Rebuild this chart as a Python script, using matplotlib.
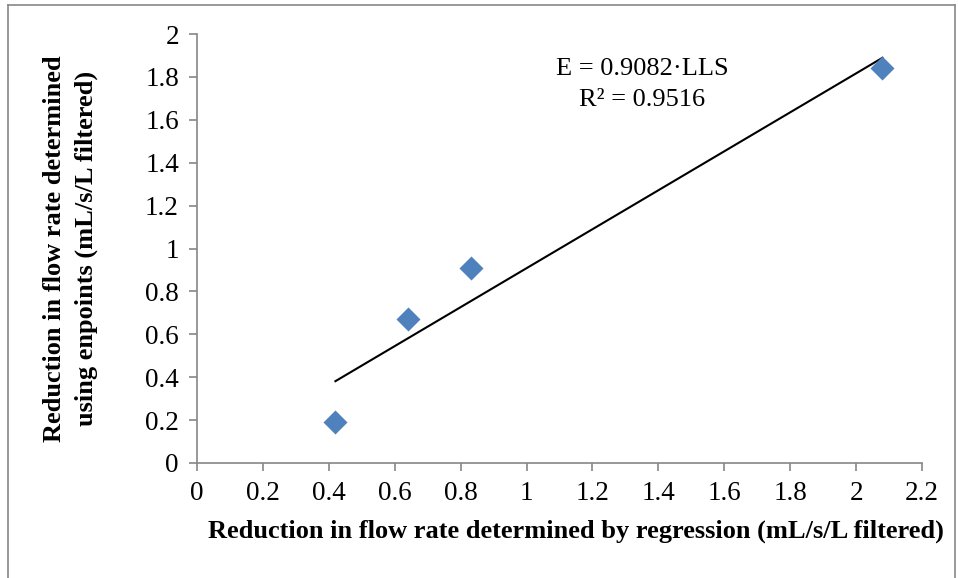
import matplotlib
matplotlib.use("Agg")
import matplotlib.pyplot as plt
from matplotlib.lines import Line2D
import numpy as np

# Data
x_regression = [0.42, 0.64, 0.83, 2.08]
y_endpoints = [0.19, 0.67, 0.91, 1.84]
slope = 0.9082
r_squared = 0.9516
x_ticks = [0, 0.2, 0.4, 0.6, 0.8, 1, 1.2, 1.4, 1.6, 1.8, 2, 2.2]
y_ticks = [0, 0.2, 0.4, 0.6, 0.8, 1, 1.2, 1.4, 1.6, 1.8, 2]

plt.rcParams['font.family'] = ['Liberation Serif', 'DejaVu Serif']

fig = plt.figure(figsize=(9.58, 5.78), dpi=100)
ax = fig.add_axes([197/958, 1 - 463/578, (922-197)/958, (463-34)/578])

gray = '#868686'
ax.scatter(x_regression, y_endpoints, marker='D', s=150, color='#4F81BD', zorder=3, linewidths=0)
xt = np.array([min(x_regression), max(x_regression)])
ax.plot(xt, slope * xt, color='black', lw=1.5, zorder=2)

ax.set_xlim(0, 2.2)
ax.set_ylim(0, 2)
ax.set_xticks(x_ticks)
ax.set_yticks(y_ticks)
ax.set_xticklabels([f"{v:g}" for v in x_ticks])
ax.set_yticklabels([f"{v:g}" for v in y_ticks])
ax.tick_params(direction='out', length=6, width=1.2, color=gray, labelsize=19.5, pad=7)
for s in ['top', 'right']:
    ax.spines[s].set_visible(False)
for s in ['left', 'bottom']:
    ax.spines[s].set_color(gray)
    ax.spines[s].set_linewidth(1.2)

ax.set_xlabel('Reduction in flow rate determined by regression (mL/s/L filtered)',
              fontsize=19, fontweight='bold', labelpad=10)
ax.xaxis.label.set_x(0.523)
ax.set_ylabel('Reduction in flow rate determined\nusing enpoints (mL/s/L filtered)',
              fontsize=19, fontweight='bold', labelpad=34, linespacing=1.45)

ax.text(1.35, 1.765, f'E = {slope}\u00b7LLS\nR\u00b2 = {r_squared}', fontsize=19,
        ha='center', va='center', linespacing=1.5)

# Figure frame
frame_color = '#888888'
fig.add_artist(Line2D([8/958, 8/958], [0, 1 - 5/578], transform=fig.transFigure, color=frame_color, lw=1.2))
fig.add_artist(Line2D([8/958, 955/958], [1 - 5/578, 1 - 5/578], transform=fig.transFigure, color=frame_color, lw=1.2))
fig.add_artist(Line2D([955/958, 955/958], [0, 1 - 5/578], transform=fig.transFigure, color=frame_color, lw=1.2))

fig.savefig('out.png', dpi=100)
